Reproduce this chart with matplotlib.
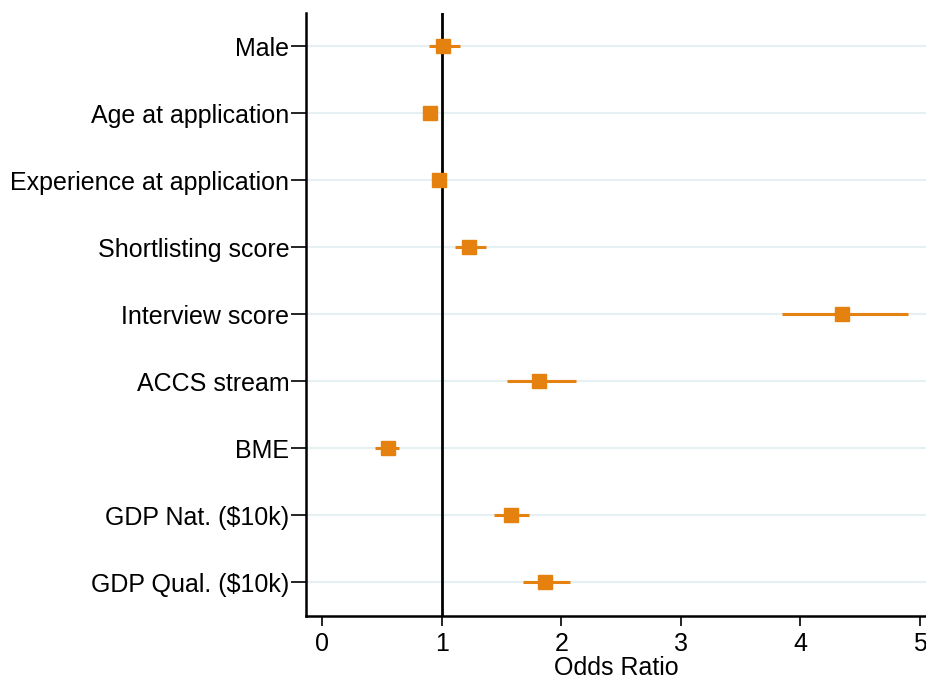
import matplotlib.pyplot as plt

labels = ['Male', 'Age at application', 'Experience at application',
          'Shortlisting score', 'Interview score', 'ACCS stream', 'BME',
          'GDP Nat. ($10k)', 'GDP Qual. ($10k)']
odds = [1.01, 0.90, 0.98, 1.23, 4.35, 1.81, 0.55, 1.58, 1.86]
ci_low = [0.89, 0.88, 0.96, 1.11, 3.85, 1.55, 0.44, 1.44, 1.68]
ci_high = [1.15, 0.92, 1.00, 1.37, 4.90, 2.12, 0.64, 1.73, 2.07]

plt.rcParams['font.family'] = ['Liberation Sans', 'DejaVu Sans']
orange = '#e5820f'

fig = plt.figure(figsize=(9.26, 6.81), dpi=100)
ax = fig.add_axes([0.3305, 0.0955, 0.6695, 0.8855])

ypos = list(range(len(labels), 0, -1))
for y in ypos:
    ax.axhline(y, color='#e6eff2', lw=1.5, zorder=0)
ax.axvline(1, color='black', lw=2, zorder=1)
ax.hlines(ypos, ci_low, ci_high, color=orange, lw=2.2, zorder=2)
ax.plot(odds, ypos, 's', color=orange, ms=9.5, zorder=3)

ax.set_xlim(-0.134, 5.05)
ax.set_ylim(0.5, len(labels) + 0.5)
ax.set_yticks(ypos)
ax.set_yticklabels(labels, fontsize=18)
ax.set_xticks([0, 1, 2, 3, 4, 5])
ax.tick_params(axis='x', labelsize=18, length=7, width=1.2, pad=4.5)
ax.tick_params(axis='y', length=10.5, width=1.2, pad=1.5)
ax.set_xlabel('Odds Ratio', fontsize=18, labelpad=0)
for s in ['top', 'right']:
    ax.spines[s].set_visible(False)
for s in ['left', 'bottom']:
    ax.spines[s].set_linewidth(1.8)

fig.savefig('out.png', dpi=100)
